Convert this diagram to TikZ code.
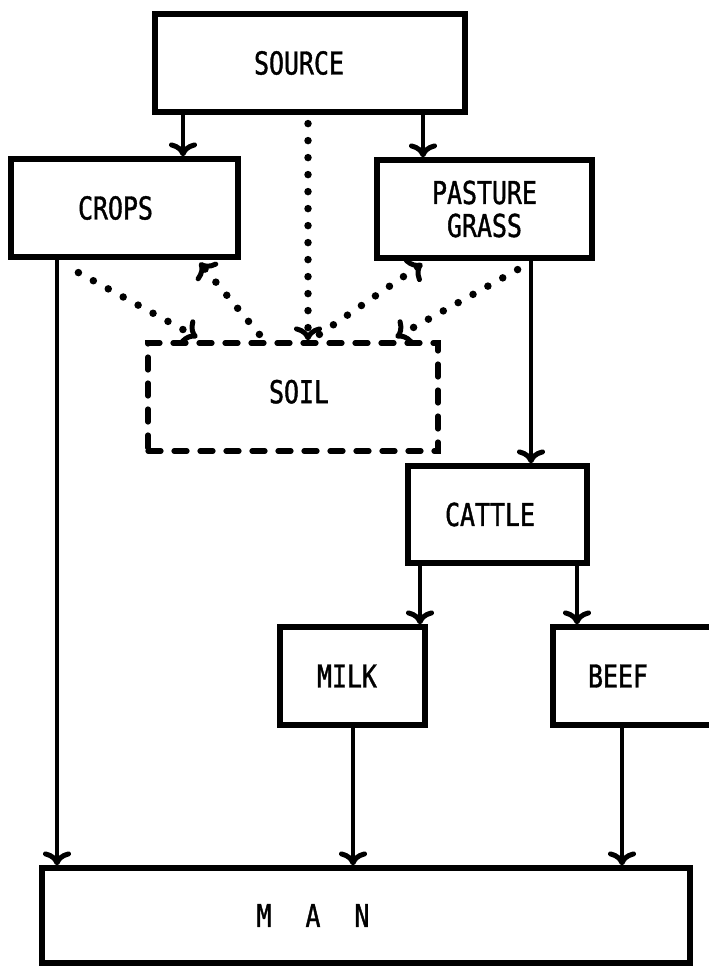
\documentclass[tikz,border=0pt]{standalone}
\usepackage{fontspec}
\newfontfamily\boxfont[FakeStretch=0.79,FakeBold=1.2]{DejaVu Sans Mono}
\usetikzlibrary{arrows.meta}
\begin{document}
\begin{tikzpicture}[x=1pt,y=-1pt,
  box/.style={draw, line width=5.2pt, inner sep=0pt,
    font=\boxfont\fontsize{31.5pt}{33pt}\selectfont, align=center},
  dashbox/.style={draw, line width=5.2pt, line cap=round,
    dash pattern=on 13pt off 13pt, inner sep=0pt,
    font=\boxfont\fontsize{31.5pt}{33pt}\selectfont},
  tip/.tip={Computer Modern Rightarrow[length=14pt,width=28pt,line width=5pt 0]},
  flow/.style={line width=4.2pt, -tip},
  dotflow/.style={line width=7.5pt, line cap=round,
    dash pattern=on 0pt off 17pt, -tip}]

\useasboundingbox (0,0) rectangle (709,967);
\clip (0,0) rectangle (709,967);

% boxes
\node[box, minimum width=310pt, minimum height=98pt] (src) at (310,63)
  {SOURCE\hspace{22pt}};
\node[box, minimum width=227pt, minimum height=98pt] (crops) at (124.5,208)
  {\raisebox{-9pt}{CROPS}\hspace{18pt}};
\node[box, minimum width=215pt, minimum height=98pt] (past) at (484.5,209)
  {PASTURE\\GRASS};
\node[dashbox, minimum width=290pt, minimum height=108pt] (soil) at (293,397)
  {\raisebox{11pt}{SOIL}\hspace*{-12pt}};
\node[box, minimum width=179pt, minimum height=97pt] (cattle) at (497.5,514.5)
  {CATTLE\hspace{15pt}};
\node[box, minimum width=145pt, minimum height=98pt] (milk) at (352.5,676)
  {MILK\hspace{11pt}};
\node[box, minimum width=162pt, minimum height=98pt] (beef) at (634,676)
  {BEEF\hspace{32pt}};
\node[box, minimum width=648pt, minimum height=95pt] (man) at (366,915.5)
  {M\hspace{34pt}A\hspace{34pt}N\hspace{106pt}};

% material flows
\draw[flow] (183,0 |- src.south) -- (183,0 |- crops.north);
\draw[flow] (423,0 |- src.south) -- (423,0 |- past.north);
\draw[flow] (57,0 |- crops.south) -- (57,0 |- man.north);
\draw[flow] (531,0 |- past.south) -- (531,0 |- cattle.north);
\draw[flow] (420,0 |- cattle.south) -- (420,0 |- milk.north);
\draw[flow] (577,0 |- cattle.south) -- (577,0 |- beef.north);
\draw[flow] (353,0 |- milk.south) -- (353,0 |- man.north);
\draw[flow] (622,0 |- beef.south) -- (622,0 |- man.north);

% nutrient exchanges with the soil
\draw[dotflow] ([yshift=-9pt]src.south -| 308,0) -- (308,0 |- soil.north);
\draw[dotflow] ([xshift=70pt,yshift=-13pt]crops.south west)
  -- ([xshift=52pt,yshift=3pt]soil.north west);
\draw[dotflow] ([xshift=114pt,yshift=6pt]soil.north west)
  -- ([xshift=-41pt,yshift=-3pt]crops.south east);
\draw[dotflow] ([xshift=174pt,yshift=6pt]soil.north west)
  -- ([xshift=48pt,yshift=-3pt]past.south west);
\draw[dotflow] ([xshift=-77pt,yshift=-9pt]past.south east)
  -- ([xshift=-45pt,yshift=3pt]soil.north east);
\end{tikzpicture}
\end{document}
